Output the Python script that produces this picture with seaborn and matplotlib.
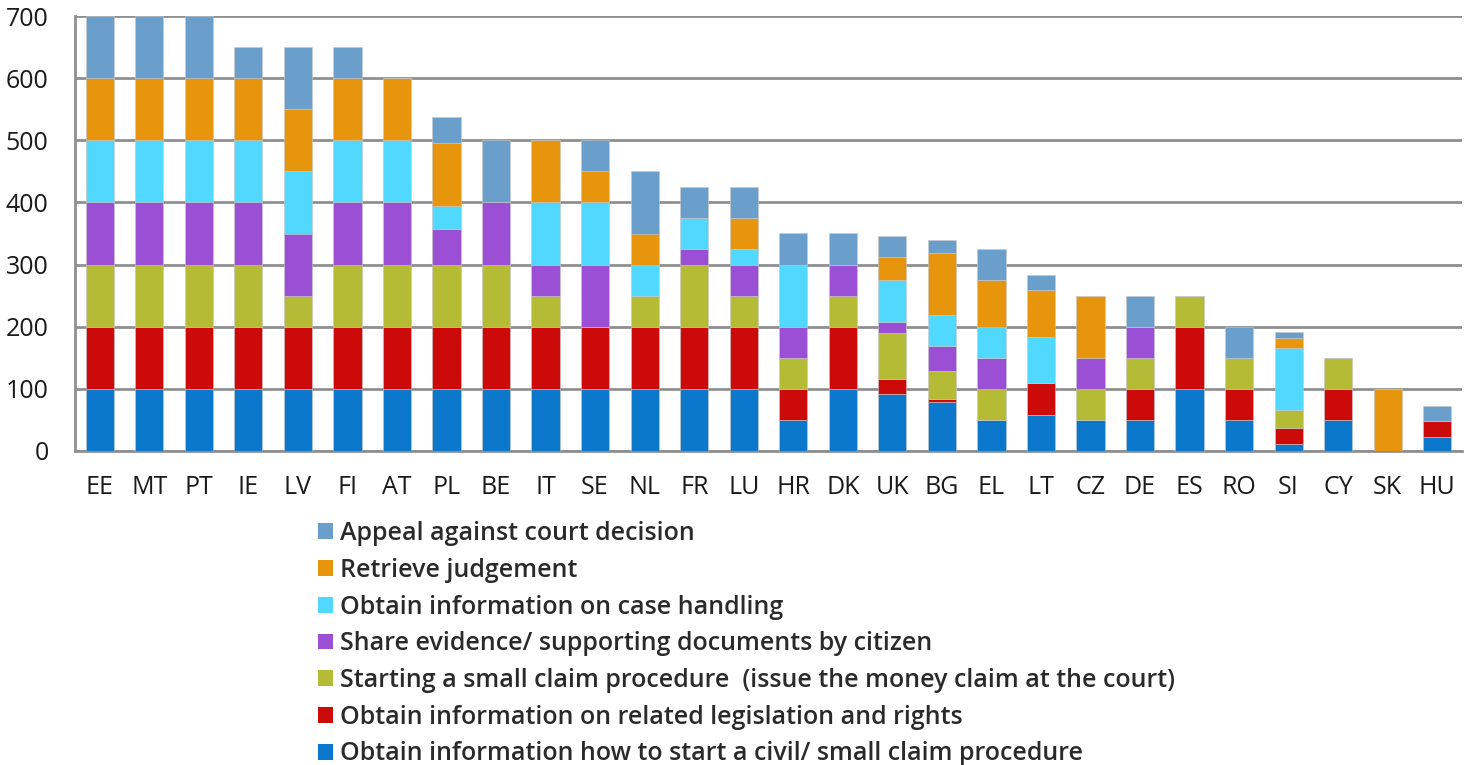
import matplotlib
matplotlib.use("Agg")
import matplotlib.pyplot as plt
import seaborn as sns
import numpy as np
from matplotlib.patches import Patch
from matplotlib.ticker import MultipleLocator

countries = ["EE", "MT", "PT", "IE", "LV", "FI", "AT", "PL", "BE", "IT", "SE", "NL", "FR", "LU",
             "HR", "DK", "UK", "BG", "EL", "LT", "CZ", "DE", "ES", "RO", "SI", "CY", "SK", "HU"]

start_info = [100, 100, 100, 100, 100, 100, 100, 100, 100, 100, 100, 100, 100, 100,
              50, 100, 92, 79, 50, 58, 50, 50, 100, 50, 12, 50, 0, 23]
legislation = [100, 100, 100, 100, 100, 100, 100, 100, 100, 100, 100, 100, 100, 100,
               50, 100, 24, 5, 0, 51, 0, 50, 100, 50, 25, 50, 0, 25]
starting_claim = [100, 100, 100, 100, 50, 100, 100, 100, 100, 50, 0, 50, 100, 50,
                  50, 50, 74, 45, 50, 0, 50, 50, 50, 50, 29, 50, 0, 0]
share_evidence = [100, 100, 100, 100, 100, 100, 100, 57, 100, 50, 100, 0, 25, 50,
                  50, 50, 18, 40, 50, 0, 50, 50, 0, 0, 0, 0, 0, 0]
case_handling = [100, 100, 100, 100, 100, 100, 100, 38, 0, 100, 100, 50, 50, 25,
                 100, 0, 67, 50, 50, 75, 0, 0, 0, 0, 100, 0, 0, 0]
retrieve = [100, 100, 100, 100, 100, 100, 100, 100, 0, 100, 50, 50, 0, 50,
            0, 0, 37, 100, 75, 75, 100, 0, 0, 0, 16, 0, 100, 0]
appeal = [100, 100, 100, 50, 100, 50, 0, 42, 100, 0, 50, 100, 50, 50,
          50, 50, 34, 21, 50, 25, 0, 50, 0, 50, 9, 0, 0, 25]

series_labels = [
    "Obtain information how to start a civil/ small claim procedure",
    "Obtain information on related legislation and rights",
    "Starting a small claim procedure  (issue the money claim at the court)",
    "Share evidence/ supporting documents by citizen",
    "Obtain information on case handling",
    "Retrieve judgement",
    "Appeal against court decision",
]
series = [start_info, legislation, starting_claim, share_evidence, case_handling, retrieve, appeal]
colors = ["#0B78CC", "#CC0A0A", "#B5BB35", "#9B4FD4", "#50D8FF", "#E8950E", "#6A9FCB"]

sns.set_style("white")
plt.rcParams["font.family"] = ["Open Sans", "DejaVu Sans"]

fig = plt.figure(figsize=(14.67, 7.65), dpi=100)
ax = fig.add_axes([75 / 1467, 1 - 451 / 765, (1462 - 75) / 1467, (451 - 16) / 765])

bottom = np.zeros(len(countries))
for vals, col in zip(series, colors):
    v = np.array(vals, dtype=float)
    sns.barplot(x=countries, y=v, bottom=bottom, color=col, width=0.57,
                edgecolor="#c8c8c8", linewidth=0.4, ax=ax, zorder=3, saturation=1)
    bottom += v

ax.set_ylim(0, 700)
ax.set_xlim(-0.5, len(countries) - 0.5)
ax.yaxis.set_major_locator(MultipleLocator(100))
ax.grid(axis="y", color="#8f8f8f", linewidth=2.0, zorder=0)
ax.grid(axis="x", visible=False)
ax.set_axisbelow(True)
for s in ["top", "right"]:
    ax.spines[s].set_visible(False)
for s in ["left", "bottom"]:
    ax.spines[s].set_color("#8f8f8f")
    ax.spines[s].set_linewidth(2.0)

ax.set_xticks(np.arange(len(countries)))
ax.set_xticklabels(countries)
ax.set_xticks(np.arange(-0.5, len(countries)), minor=True)
ax.tick_params(axis="x", which="major", length=0, pad=17, labelsize=18, labelcolor="#1a1a1a")
ax.tick_params(axis="x", which="minor", length=5, width=1.5, color="#8f8f8f", direction="out")
ax.tick_params(axis="y", which="major", length=5, width=1.5, color="#8f8f8f", direction="out",
               pad=14, labelsize=18, labelcolor="#1a1a1a")
ax.set_xlabel("")
ax.set_ylabel("")

handles = [Patch(facecolor=c, edgecolor="none") for c in colors[::-1]]
fig.legend(handles, series_labels[::-1], loc="upper left",
           bbox_to_anchor=(308 / 1467, 1 - 511 / 765), frameon=False,
           prop={"family": ["Open Sans", "DejaVu Sans"], "size": 18, "weight": "semibold"},
           labelcolor="#2a2a2a", handlelength=0.6, handleheight=0.6, handletextpad=0.3,
           labelspacing=0.47, borderaxespad=0)

fig.savefig("out.png", dpi=100)
